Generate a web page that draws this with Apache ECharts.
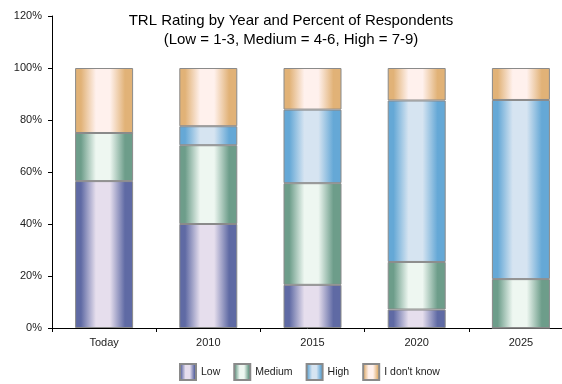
<!DOCTYPE html>
<html>
<head>
<meta charset="utf-8">
<style>
  html, body { margin: 0; padding: 0; background: #fff; }
  #chart { width: 562px; height: 384px; }
</style>
<script src="https://cdn.jsdelivr.net/npm/echarts@6/dist/echarts.min.js"></script>
</head>
<body>
<div id="chart"></div>
<script>
var categories = ['Today', '2010', '2015', '2020', '2025']
var lowData = [56.5, 40.0, 16.6, 7.1, 0]
var mediumData = [18.5, 30.3, 39.1, 18.3, 18.8]
var highData = [0, 7.3, 28.3, 62.1, 68.9]
var unknownData = [25.0, 22.4, 16.0, 12.5, 12.3]

var fontFamily = '"Liberation Sans", Arial, Helvetica, sans-serif'

// dark edges, pale middle, like the old office cylinder-ish bars
function barFill(edge, mid) {
  return new echarts.graphic.LinearGradient(0, 0, 1, 0, [
    { offset: 0, color: edge },
    { offset: 0.1, color: edge },
    { offset: 0.36, color: mid },
    { offset: 0.6, color: mid },
    { offset: 0.86, color: edge },
    { offset: 1, color: edge }
  ])
}

function makeSeries(name, data, edge, mid) {
  return {
    name: name,
    type: 'bar',
    stack: 'total',
    barWidth: 58,
    data: data,
    itemStyle: {
      color: barFill(edge, mid),
      borderColor: '#8a8a8a',
      borderWidth: 1
    },
    emphasis: { disabled: true }
  }
}

var chart = echarts.init(document.getElementById('chart'))
chart.setOption({
  animation: false,
  textStyle: { fontFamily: fontFamily },
  title: {
    text: 'TRL Rating by Year and Percent of Respondents\n(Low = 1-3, Medium = 4-6, High = 7-9)',
    left: 286,
    top: 6,
    textAlign: 'center',
    textStyle: {
      fontFamily: fontFamily,
      fontSize: 15,
      fontWeight: 'normal',
      color: '#000',
      lineHeight: 19
    }
  },
  legend: {
    top: 358,
    left: 174,
    icon: 'rect',
    itemWidth: 16,
    itemHeight: 16,
    itemGap: 13,
    textStyle: { fontFamily: fontFamily, fontSize: 10.5, color: '#222' },
    data: ['Low', 'Medium', 'High', "I don't know"]
  },
  grid: {
    left: 52,
    top: 16,
    width: 521,
    bottom: 56,
    outerBoundsMode: 'none'
  },
  xAxis: {
    type: 'category',
    data: categories,
    axisLine: { lineStyle: { color: '#000', width: 1 } },
    axisTick: { show: true, length: 4, lineStyle: { color: '#000' } },
    axisLabel: { fontSize: 11, color: '#222', margin: 9 }
  },
  yAxis: {
    type: 'value',
    min: 0,
    max: 120,
    interval: 20,
    axisLine: { show: true, lineStyle: { color: '#000', width: 1 } },
    axisTick: { show: true, length: 4, lineStyle: { color: '#000' } },
    axisLabel: { formatter: '{value}%', fontSize: 11, color: '#222', margin: 10 },
    splitLine: { show: false }
  },
  series: [
    makeSeries('Low', lowData, '#5f6aa4', '#e6deed'),
    makeSeries('Medium', mediumData, '#6d9d8a', '#eef7f1'),
    makeSeries('High', highData, '#65a8d6', '#d6e4f1'),
    makeSeries("I don't know", unknownData, '#e1b277', '#fff1ed')
  ]
})
</script>
</body>
</html>
